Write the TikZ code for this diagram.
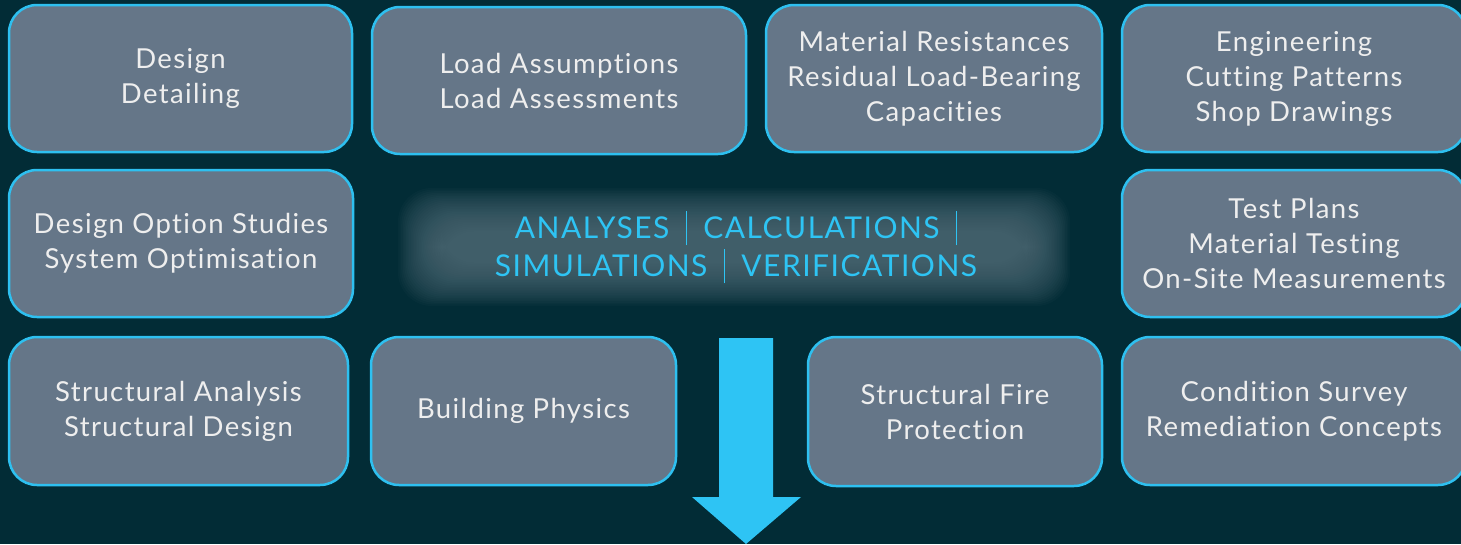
\documentclass[tikz,border=0pt]{standalone}
\usepackage{fontspec}
\setmainfont{Lato}[Ligatures=NoCommon, LetterSpace=5]
\definecolor{bg}{HTML}{022C36}
\definecolor{boxfill}{HTML}{657688}
\definecolor{boxline}{HTML}{2EC0F0}
\definecolor{txt}{HTML}{EEEEEE}
\definecolor{accent}{HTML}{2EC4F4}
\definecolor{glow}{HTML}{5E7884}
\tikzset{
  card/.style={draw=boxline, line width=2.5pt, fill=boxfill, rounded corners=28pt,
    text=txt, align=center, font=\fontsize{27.5}{35}\selectfont, inner sep=0pt},
  bigarrow/.style={fill=accent},
  centertext/.style={text=accent, align=center, font=\fontsize{30}{38}\selectfont}
}
\newcommand\mkcard[6]{%
  \pgfmathsetmacro\cw{#4-#2}\pgfmathsetmacro\ch{#5-#3}%
  \node[card, minimum width=\cw pt, minimum height=\ch pt] (#1) at ({(#2+#4)/2},{(#3+#5)/2}) {#6};}
\newcommand\sepbar{\hspace{0.55em}\rule[-0.22em]{1pt}{1.15em}\hspace{0.55em}}
\begin{document}
\begin{tikzpicture}[x=1pt,y=-1pt]
\fill[bg] (0,0) rectangle (1461,544);
\useasboundingbox (0,0) rectangle (1461,544);
\clip (0,0) rectangle (1461,544);
% glow
\foreach \i in {0,...,27}{
  \fill[glow, fill opacity=0.05, rounded corners=34pt] (398+1.6*\i,188+1.6*\i) rectangle (1070-1.6*\i,306-1.6*\i);
}
% row 1
\mkcard{design}{9}{5}{352}{152}{Design\\Detailing}
\mkcard{load}{372}{7}{746}{154}{Load Assumptions\\Load Assessments}
\mkcard{material}{766}{5}{1102}{152}{Material Resistances\\Residual Load-Bearing\\Capacities}
\mkcard{engineering}{1122}{5}{1466}{152}{Engineering\\Cutting Patterns\\Shop Drawings}
% row 2
\mkcard{option}{9}{170}{353}{317}{Design Option Studies\\System Optimisation}
\mkcard{test}{1122}{170}{1466}{317}{Test Plans\\Material Testing\\On-Site Measurements}
% row 3
\mkcard{structural}{9}{337}{348}{485}{Structural Analysis\\Structural Design}
\mkcard{physics}{371}{337}{676}{485}{Building Physics}
\mkcard{fire}{808}{337}{1102}{486}{Structural Fire\\Protection}
\mkcard{condition}{1122}{337}{1466}{485}{Condition Survey\\Remediation Concepts}
% centre text
\node[centertext] (core) at (736,247) {ANALYSES\sepbar CALCULATIONS\sepbar\\SIMULATIONS\sepbar VERIFICATIONS};
% big arrow
\fill[bigarrow] (719,338) -- (773,338) -- (773,497) -- (801,497) -- (746,544) -- (692,497) -- (719,497) -- cycle;
\end{tikzpicture}
\end{document}
